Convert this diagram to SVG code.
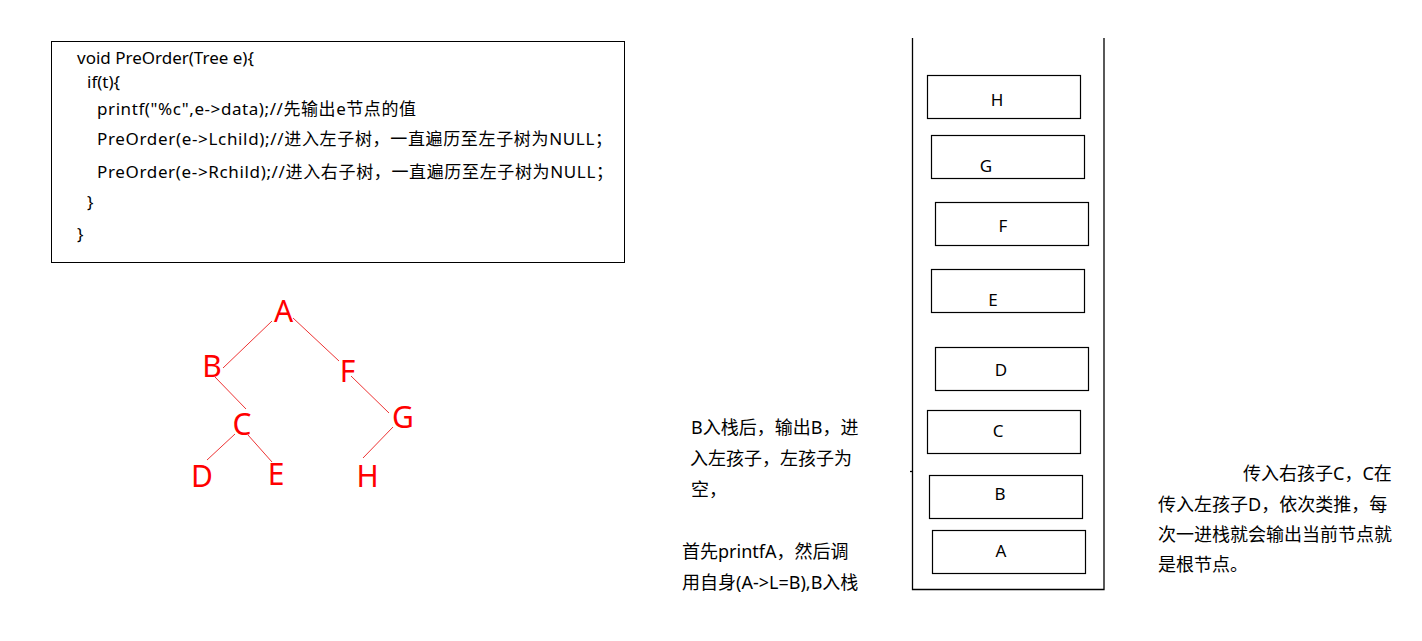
<svg xmlns="http://www.w3.org/2000/svg" width="1422" height="641" viewBox="0 0 1422 641">
<style>
.code{font-family:"Noto Sans","Noto Sans CJK SC",sans-serif;font-size:17px;fill:#000}
.note{font-family:"Noto Sans","Noto Sans CJK SC",sans-serif;font-size:18px;fill:#000}
.tn{font-family:"Noto Sans","Noto Sans CJK SC",sans-serif;font-size:30px;fill:#ff0000;text-anchor:middle}
.edge{stroke:#ee3333;stroke-width:1;fill:none}
.box{fill:#fff;stroke:#000;stroke-width:1.2}
.sl{font-family:"Noto Sans",sans-serif;font-size:17px;fill:#000;text-anchor:middle}
.wall{stroke:#000;stroke-width:1.3;fill:none}
</style>
<rect width="1422" height="641" fill="#fff"/>
<g id="code">
<rect x="51.5" y="41.5" width="573" height="221" fill="#fff" stroke="#000" stroke-width="1"/>
<text class="code" x="77" y="64">void PreOrder(Tree e){</text>
<text class="code" x="87" y="88">if(t){</text>
<text class="code" x="97" y="115" textLength="319" lengthAdjust="spacing">printf("%c",e-&gt;data);//先输出e节点的值</text>
<text class="code" x="97" y="145" textLength="515" lengthAdjust="spacing">PreOrder(e-&gt;Lchild);//进入左子树，一直遍历至左子树为NULL；</text>
<text class="code" x="97" y="178" textLength="516" lengthAdjust="spacing">PreOrder(e-&gt;Rchild);//进入右子树，一直遍历至左子树为NULL；</text>
<text class="code" x="87" y="208">}</text>
<text class="code" x="77" y="240">}</text>
</g>
<g id="tree-edges">
<line class="edge" x1="272" y1="321" x2="223" y2="368"/>
<line class="edge" x1="293" y1="318" x2="339" y2="361"/>
<line class="edge" x1="215" y1="377" x2="246" y2="409"/>
<line class="edge" x1="351" y1="376" x2="389" y2="413"/>
<line class="edge" x1="235" y1="434" x2="207" y2="460"/>
<line class="edge" x1="248" y1="435" x2="272" y2="462"/>
<line class="edge" x1="393" y1="427" x2="363" y2="458"/>
</g>
<g id="tree-A"><text class="tn" x="283.5" y="322">A</text></g>
<g id="tree-B"><text class="tn" x="212" y="377">B</text></g>
<g id="tree-F"><text class="tn" x="347.5" y="382">F</text></g>
<g id="tree-C"><text class="tn" x="242" y="435">C</text></g>
<g id="tree-G"><text class="tn" x="403" y="428">G</text></g>
<g id="tree-D"><text class="tn" x="202" y="487">D</text></g>
<g id="tree-E"><text class="tn" x="276" y="485">E</text></g>
<g id="tree-H"><text class="tn" x="367.5" y="487">H</text></g>
<g id="note-left">
<text class="note" x="691" y="434">B入栈后，输出B，进</text>
<text class="note" x="690" y="465">入左孩子，左孩子为</text>
<text class="note" x="691" y="496">空，</text>
<text class="note" x="682" y="558">首先printfA，然后调</text>
<text class="note" x="682" y="589">用自身(A-&gt;L=B),B入栈</text>
</g>
<g id="stack">
<polyline class="wall" points="912.5,38 912.5,589.5 1104,589.5 1104,38"/>
<line class="wall" x1="910" y1="471.5" x2="913" y2="471.5"/>
</g>
<g id="stack-H"><rect class="box" x="927.5" y="75.5" width="153" height="43"/><text class="sl" x="997" y="106">H</text></g>
<g id="stack-G"><rect class="box" x="931.5" y="135.5" width="153" height="43"/><text class="sl" x="986" y="172">G</text></g>
<g id="stack-F"><rect class="box" x="935.5" y="202.5" width="153" height="43"/><text class="sl" x="1003" y="232">F</text></g>
<g id="stack-E"><rect class="box" x="931.5" y="269.5" width="153" height="43"/><text class="sl" x="993" y="306">E</text></g>
<g id="stack-D"><rect class="box" x="935.5" y="347.5" width="153" height="43"/><text class="sl" x="1001" y="376">D</text></g>
<g id="stack-C"><rect class="box" x="927.5" y="410.5" width="153" height="43"/><text class="sl" x="998" y="437">C</text></g>
<g id="stack-B"><rect class="box" x="929.5" y="475.5" width="153" height="43"/><text class="sl" x="1000" y="500">B</text></g>
<g id="stack-A"><rect class="box" x="932.5" y="530.5" width="153" height="43"/><text class="sl" x="1001" y="557">A</text></g>
<g id="note-right">
<text class="note" x="1243" y="480">传入右孩子C，C在</text>
<text class="note" x="1158" y="511">传入左孩子D，依次类推，每</text>
<text class="note" x="1158" y="541">次一进栈就会输出当前节点就</text>
<text class="note" x="1158" y="571">是根节点。</text>
</g>
</svg>
